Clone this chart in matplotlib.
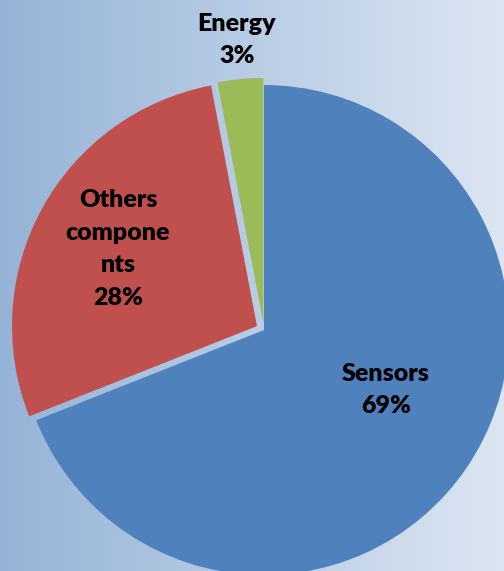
import numpy as np
import matplotlib
matplotlib.use("Agg")
import matplotlib.pyplot as plt
from matplotlib.colors import LinearSegmentedColormap

# Share of components
categories = ["Sensors", "Others\ncompone\nnts", "Energy"]
shares = [69, 28, 3]
colors = ["#4F81BD", "#C0504D", "#9BBB59"]

W, H = 504, 571
fig = plt.figure(figsize=(W / 100, H / 100), dpi=100)
ax = fig.add_axes([0, 0, 1, 1])
ax.set_axis_off()

# Horizontal gradient backdrop
grad = np.linspace(0, 1, 256).reshape(1, -1)
cmap = LinearSegmentedColormap.from_list("bg", ["#95B3D7", "#DCE6F2"])
ax.imshow(grad, cmap=cmap, extent=(0, W, 0, H), aspect="auto", zorder=0)

cx, cy, r = 264, H - 330, 245
wedges, _ = ax.pie(
    shares,
    colors=colors,
    startangle=90,
    counterclock=False,
    explode=[0, 8, 7],          # offsets in data units (pixels here)
    center=(cx, cy),
    radius=r,
    wedgeprops=dict(linewidth=0, zorder=2),
)

ax.set_xlim(0, W)
ax.set_ylim(0, H)
ax.set_aspect("auto")

label_pos = [(386, H - 390), (118, H - 249), (237, H - 40)]
for name, val, (x, y) in zip(categories, shares, label_pos):
    ax.text(x, y, f"{name}\n{val}%", ha="center", va="center",
            fontsize=18, fontweight="heavy", family="Lato",
            linespacing=1.58, color="black", zorder=3)

fig.savefig("out.png", dpi=100)
